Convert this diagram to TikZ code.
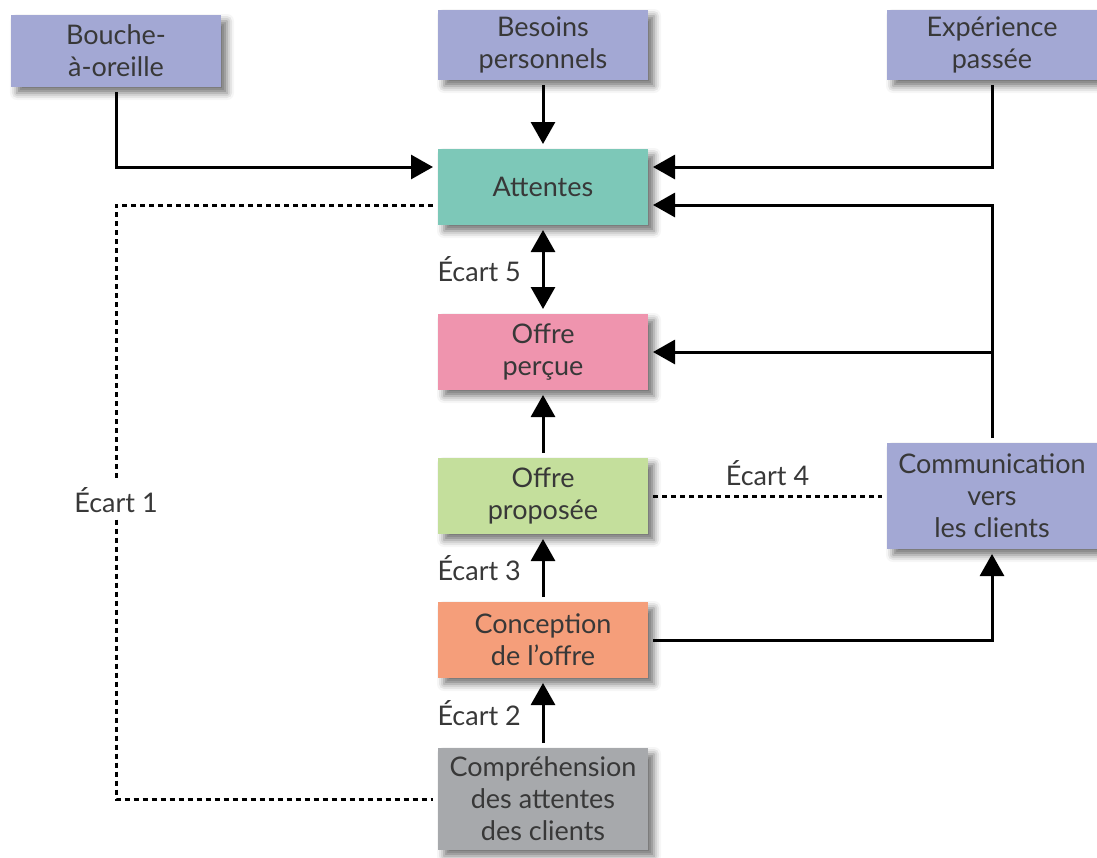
\documentclass[tikz,border=0pt]{standalone}
\usepackage{fontspec}
\setmainfont{Lato}
\usetikzlibrary{arrows.meta,shadows.blur}
\definecolor{mauve}{HTML}{A3A8D4}
\definecolor{turquoise}{HTML}{7DC8B8}
\definecolor{rose}{HTML}{EF94AE}
\definecolor{vert}{HTML}{C4DF9C}
\definecolor{saumon}{HTML}{F59E7A}
\definecolor{gris}{HTML}{A7A9AC}
\definecolor{texte}{HTML}{383838}

\begin{document}
\begin{tikzpicture}[x=0.5pt, y=-0.5pt,
		box/.style={fill=#1, text=texte, minimum width=105pt, minimum height=38pt, align=center,
			inner sep=2pt, outer sep=2.5pt, font=\fontsize{13.5}{16}\selectfont,
			blur shadow={shadow xshift=3pt, shadow yshift=-3pt, shadow blur radius=3.5pt, shadow opacity=55}},
		pointe/.tip={Triangle[length=11pt, width=12pt]},
		fleche/.style={-pointe, line width=1.5pt},
		ecart/.style={line width=1.5pt, dash pattern=on 2.5pt off 2pt},
		etiq/.style={text=texte, font=\fontsize{13.5}{16}\selectfont},
	]
		\useasboundingbox (0,0) rectangle (1097,857);
		
		\node[box=mauve, minimum height=36pt] (bouche) at (116,51) {Bouche-\\à-oreille};
		\node[box=mauve, minimum height=35pt] (besoins) at (543,45) {Besoins\\personnels};
		\node[box=mauve, minimum height=35pt] (experience) at (992,45) {Expérience\\passée};
		
		\node[box=turquoise] (attentes) at (543,187) {Attentes};
		\node[box=rose] (percue) at (543,352) {Offre\\perçue};
		\node[box=vert] (proposee) at (543,496) {Offre\\proposée};
		\node[box=saumon] (conception) at (543,640) {Conception\\de l’offre};
		\node[box=gris, minimum height=51pt] (comprehension) at (543,799) {Compréhension\\des attentes\\des clients};
		\node[box=mauve, minimum height=53pt] (communication) at (992,496) {Communication\\vers\\les clients};
		
		\draw[fleche] (bouche.south) |- ([yshift=10pt]attentes.west);
		\draw[fleche] (besoins) -- (attentes);
		\draw[fleche] (experience.south) |- ([yshift=10pt]attentes.east);
		\draw[fleche] (communication.north) |- ([yshift=-9pt]attentes.east);
		\draw[fleche] (communication.north |- percue.east) -- (percue.east);
		
		\draw[fleche, pointe-pointe] (attentes) -- (percue) node[midway, left, etiq, xshift=-7pt] {Écart 5};
		\draw[fleche] (proposee) -- (percue);
		\draw[fleche] (conception) -- (proposee) node[midway, left, etiq, xshift=-7pt] {Écart 3};
		\draw[fleche] (comprehension) -- (conception) node[midway, left, etiq, xshift=-7pt] {Écart 2};
		\draw[fleche] (conception.east) -| (communication.south);
		
		\draw[ecart] (proposee.east) -- (communication.west) node[midway, above, etiq, yshift=1pt] {Écart 4};
		\node[etiq] (ecart1) at (116,500) {Écart 1};
		\draw[ecart] ([yshift=-9pt]attentes.west) -| (ecart1.north);
		\draw[ecart] (ecart1.south) |- (comprehension.west);
	\end{tikzpicture}
\end{document}
